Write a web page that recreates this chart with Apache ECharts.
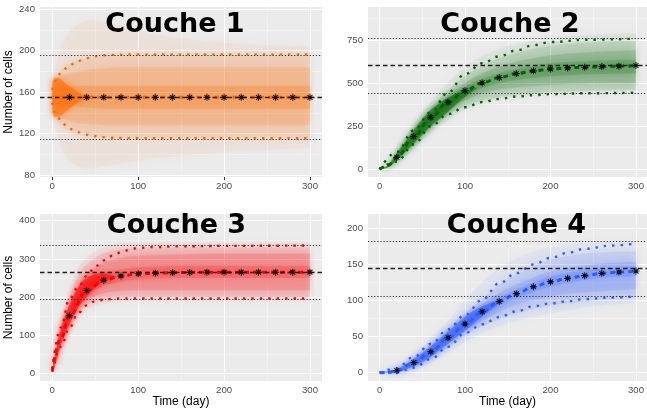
<!DOCTYPE html>
<html>
<head>
<meta charset="utf-8">
<script src="https://cdn.jsdelivr.net/npm/echarts@6/dist/echarts.min.js"></script>
<style>
  html, body { margin: 0; padding: 0; background: #fff; }
  #main { width: 647px; height: 409px; }
</style>
</head>
<body>
<div id="main"></div>
<script>
// ---- data ----
const titles = ['Couche 1', 'Couche 2', 'Couche 3', 'Couche 4']
const xTicks = [0, 100, 200, 300]
const xMinor = [50, 150, 250]
const yTicks1 = [80, 120, 160, 200, 240]
const yTicks2 = [0, 250, 500, 750]
const yTicks3 = [0, 100, 200, 300, 400]
const yTicks4 = [0, 50, 100, 150, 200]
const yMinor1 = [100, 140, 180, 220]
const yMinor2 = [125, 375, 625, 875]
const yMinor3 = [50, 150, 250, 350]
const yMinor4 = [25, 75, 125, 175]

// mean curve (stars from day 20 on)
const tMean = [0, 10, 20, 40, 60, 80, 100, 120, 140, 160, 180, 200, 220, 240, 260, 280, 300]
const mean1 = [155, 155, 155, 155, 155, 155, 155, 155, 155, 155, 155, 155, 155, 155, 155, 155, 155]
const mean2 = [0, 22, 70, 190, 302, 389, 456, 501, 532, 555, 571, 582, 588, 592, 596, 598, 602]
const mean3 = [6, 92, 151, 217, 244, 255, 261, 262.5, 264, 264.5, 265, 265, 265, 265, 265, 265, 265]
const mean4 = [0, 0.5, 2.8, 13.9, 29, 48.5, 67.5, 84.5, 98.8, 109.5, 119, 126, 130.7, 134.4, 137.6, 139.4, 140.8]

// horizontal reference lines: [dashed, dotted high, dotted low]
const ref1 = [155, 196, 114.5]
const ref2 = [603, 758, 443]
const ref3 = [265, 335, 195]
const ref4 = [144.5, 181.5, 106]

// coloured dotted quantile curves
const tq1 = [0, 3, 6, 11, 19, 28, 37, 47, 57, 66, 100, 200, 300]
const q1Hi = [162, 170, 175, 180, 185, 189, 192, 194, 195.5, 196, 196.5, 196.5, 196.5]
const q1Lo = [150, 141, 136, 131, 125, 122, 119.3, 117.7, 116.7, 116, 115.5, 115.5, 115.5]
const tq2 = [0, 20, 40, 60, 80, 100, 120, 140, 160, 180, 200, 240, 300]
const q2Hi = [0, 100, 225, 330, 445, 553, 615, 655, 690, 720, 738, 751, 758]
const q2Lo = [0, 45, 145, 250, 320, 360, 390, 408, 422, 430, 436, 441, 444]
const tq3 = [0, 10, 20, 30, 40, 50, 60, 70, 80, 90, 100, 120, 150, 200, 300]
const q3Hi = [10, 120, 195, 225, 255, 280, 296, 308, 317, 324, 329, 331, 333, 334, 335]
const q3Lo = [4, 70, 120, 158, 178, 189, 193, 195, 196, 196, 196, 196, 196, 196, 196]
const tq4 = [0, 20, 40, 60, 80, 100, 120, 140, 160, 180, 200, 220, 240, 270, 300]
const q4Hi = [0, 6, 22, 40, 60, 80, 101, 124, 138, 150, 159, 166, 171.5, 176, 179]
const q4Lo = [0, 0.5, 7, 19, 36, 55, 67, 77, 85, 92, 96, 99, 102, 104, 105.5]

// bundle of trajectories, as nested [low, high] envelopes
const t1 = [0, 4, 8, 12, 20, 30, 45, 60, 80, 120, 200, 300]
const p1Outer = [[137, 173], [124, 186], [112, 198], [103, 207], [94, 218], [88, 226], [86, 230], [88, 228], [91, 224], [96, 216], [102, 208], [106, 204]]
const p1Mid = [[138, 172], [134, 176], [130, 180], [127, 183], [122, 188], [119, 191], [117, 194], [116, 195], [116, 196], [116, 196], [116, 196], [116, 196]]
const p1Inner = [[140, 170], [138, 172], [136, 174], [134, 176], [132, 178], [130, 180], [129, 182], [128, 183], [128, 184], [128, 184], [128, 184], [128, 184]]
const p1Core = [[146, 166], [146, 166], [146, 166], [146, 166], [146, 166], [146, 166], [145, 166], [144, 166], [144, 166], [144, 166], [144, 166], [144, 166]]
const t1e = [0, 3, 7, 12, 18, 25, 32, 42]
const p1Early = [[140, 170], [136, 174], [136, 174], [139, 171], [143, 167], [147, 163], [151, 159], [155, 155]]

const t2 = [0, 10, 20, 30, 40, 60, 80, 100, 120, 150, 200, 250, 300]
const p2Outer = [[0, 0], [8, 30], [35, 110], [75, 190], [118, 265], [210, 390], [285, 505], [345, 595], [385, 655], [420, 715], [445, 762], [452, 782], [455, 790]]
const p2Mid = [[0, 0], [10, 26], [45, 98], [90, 172], [135, 242], [235, 360], [315, 460], [365, 540], [398, 600], [428, 662], [448, 716], [456, 736], [460, 744]]
const p2Inner = [[0, 0], [12, 24], [52, 88], [100, 155], [150, 222], [255, 335], [340, 425], [400, 500], [440, 555], [470, 612], [490, 660], [500, 680], [502, 690]]
const p2Core = [[0, 0], [14, 22], [60, 80], [115, 140], [172, 205], [280, 318], [365, 410], [428, 478], [470, 525], [510, 570], [540, 615], [552, 630], [556, 636]]
const t2e = [0, 10, 20, 30, 40, 50, 60, 75, 95, 115]
const p2Early = [[0, 0], [14, 25], [52, 92], [100, 160], [150, 228], [200, 290], [250, 345], [310, 400], [400, 450], [475, 475]]

const t3 = [0, 5, 10, 20, 30, 40, 60, 80, 100, 150, 200, 300]
const p3Outer = [[2, 14], [25, 80], [58, 140], [105, 215], [145, 275], [168, 305], [185, 330], [190, 340], [192, 342], [192, 342], [192, 342], [192, 342]]
const p3Mid = [[3, 12], [30, 72], [68, 128], [118, 200], [158, 255], [180, 285], [194, 315], [198, 325], [200, 328], [200, 330], [200, 330], [200, 330]]
const p3Inner = [[4, 10], [36, 65], [76, 115], [130, 180], [170, 230], [192, 260], [210, 290], [216, 302], [218, 308], [218, 312], [218, 314], [218, 314]]
const p3Core = [[5, 8], [42, 58], [84, 104], [140, 165], [180, 205], [205, 232], [230, 262], [240, 272], [246, 278], [250, 282], [250, 282], [250, 282]]
const t3e = [0, 5, 10, 20, 30, 40, 55, 75]
const p3Early = [[3, 12], [34, 68], [74, 118], [128, 180], [172, 225], [200, 250], [235, 262], [254, 254]]

const t4 = [0, 20, 40, 60, 80, 100, 120, 140, 160, 200, 250, 300]
const p4Outer = [[0, 0], [0, 8], [4, 26], [14, 48], [28, 72], [42, 100], [55, 125], [64, 145], [72, 158], [82, 174], [92, 180], [97, 182]]
const p4Mid = [[0, 0], [1, 6], [7, 21], [19, 40], [35, 61], [52, 82], [64, 102], [74, 122], [82, 136], [93, 156], [100, 166], [104, 168]]
const p4Inner = [[0, 0], [2, 4], [10, 17], [23, 35], [40, 55], [58, 76], [72, 95], [84, 110], [94, 122], [106, 140], [112, 150], [116, 154]]
const p4Core = [[0, 0], [2, 4], [12, 15], [26, 32], [45, 52], [63, 72], [79, 90], [93, 104], [103, 115], [119, 133], [130, 143], [134, 147]]
const t4e = [0, 20, 40, 60, 80, 100, 120, 145]
const p4Early = [[0, 0], [1, 5], [9, 19], [22, 37], [40, 57], [58, 78], [78, 92], [101, 101]]

// ---- layout / styles ----
const colors = ['#ff6a00', '#006400', '#ff0000', '#2f5cff']
const grids = [
  { left: 40, top: 7, width: 282, height: 170 },
  { left: 368, top: 7, width: 279, height: 170 },
  { left: 40, top: 214, width: 282, height: 167 },
  { left: 368, top: 214, width: 279, height: 167 }
]
const xRange = [[-14.3, 314], [-13.6, 312.9], [-14.3, 314], [-13.6, 312.9]]
const yRange = [[78.1, 242.2], [-44.7, 941.4], [-20.2, 417.6], [-11.5, 219.8]]
const yTicks = [yTicks1, yTicks2, yTicks3, yTicks4]
const yMinor = [yMinor1, yMinor2, yMinor3, yMinor4]
const titlePos = [[175, 25], [510, 25], [176.5, 226], [516.5, 226]]

// smooth path through pixel points (catmull-rom, clamped so it doesn't overshoot)
function curve(p, start) {
  let d = start + p[0][0] + ' ' + p[0][1]
  for (let i = 0; i < p.length - 1; i++) {
    const p0 = p[i - 1] || p[i], p1 = p[i], p2 = p[i + 1], p3 = p[i + 2] || p[i + 1]
    const ylo = Math.min(p1[1], p2[1]), yhi = Math.max(p1[1], p2[1])
    const c1x = p1[0] + (p2[0] - p0[0]) / 6
    const c2x = p2[0] - (p3[0] - p1[0]) / 6
    const c1y = Math.min(yhi, Math.max(ylo, p1[1] + (p2[1] - p0[1]) / 6))
    const c2y = Math.min(yhi, Math.max(ylo, p2[1] - (p3[1] - p1[1]) / 6))
    d += ' C' + c1x + ' ' + c1y + ' ' + c2x + ' ' + c2y + ' ' + p2[0] + ' ' + p2[1]
  }
  return d
}

function band(k, T, pairs, alpha, blur) {
  return {
    type: 'custom', xAxisIndex: k, yAxisIndex: k, silent: true, z: 2,
    data: [[T[0], pairs[0][0]]],
    renderItem: function (params, api) {
      const lo = T.map((t, i) => api.coord([t, pairs[i][0]]))
      const hi = T.map((t, i) => api.coord([t, pairs[i][1]])).reverse()
      return {
        type: 'path',
        shape: { pathData: curve(lo, 'M') + ' ' + curve(hi, 'L') + ' Z' },
        style: { fill: colors[k], opacity: alpha, shadowBlur: blur, shadowColor: colors[k] }
      }
    }
  }
}

function curveSeries(k, T, V, color, width, dash, z) {
  return {
    type: 'line', xAxisIndex: k, yAxisIndex: k, silent: true, z: z,
    data: T.map((t, i) => [t, V[i]]),
    smooth: 0.4, smoothMonotone: 'x', symbol: 'none',
    lineStyle: { color: color, width: width, type: dash, cap: 'butt' }
  }
}

function gridLines(k) {
  const major = { color: '#ffffff', width: 1.1, type: 'solid' }
  const minor = { color: '#f7f7f7', width: 0.55, type: 'solid' }
  const data = []
  xTicks.forEach(v => data.push({ xAxis: v, lineStyle: major }))
  xMinor.forEach(v => data.push({ xAxis: v, lineStyle: minor }))
  yTicks[k].forEach(v => data.push({ yAxis: v, lineStyle: major }))
  yMinor[k].forEach(v => data.push({ yAxis: v, lineStyle: minor }))
  return {
    type: 'line', xAxisIndex: k, yAxisIndex: k, data: [], z: 1, silent: true,
    markLine: { silent: true, symbol: 'none', label: { show: false }, z: 1, animation: false, data: data }
  }
}

function refLines(k, ref) {
  return {
    type: 'line', xAxisIndex: k, yAxisIndex: k, data: [], z: 5, silent: true,
    markLine: {
      silent: true, symbol: 'none', label: { show: false }, z: 5, animation: false,
      data: [
        { yAxis: ref[0], lineStyle: { color: '#222', width: 1.3, type: [4.5, 3] } },
        { yAxis: ref[1], lineStyle: { color: '#333', width: 1, type: [1.2, 1.9] } },
        { yAxis: ref[2], lineStyle: { color: '#333', width: 1, type: [1.2, 1.9] } }
      ]
    }
  }
}

function stars(k, M) {
  const pts = tMean.map((t, i) => [t, M[i]]).filter(p => p[0] >= 20)
  return [
    {
      type: 'scatter', xAxisIndex: k, yAxisIndex: k, silent: true, z: 6, data: pts,
      symbol: 'path://M0 -5L0 5M-5 0L5 0M-3.5 -3.5L3.5 3.5M-3.5 3.5L3.5 -3.5',
      symbolSize: 7,
      itemStyle: { color: 'transparent', borderColor: '#000', borderWidth: 1.1 }
    },
    {
      type: 'scatter', xAxisIndex: k, yAxisIndex: k, silent: true, z: 6, data: pts,
      symbol: 'circle', symbolSize: 3.2, itemStyle: { color: '#111' }
    }
  ]
}

const panels = [
  { T: t1, layers: [p1Outer, p1Mid, p1Inner, p1Core], Te: t1e, early: p1Early, mean: mean1, ref: ref1, tq: tq1, qHi: q1Hi, qLo: q1Lo },
  { T: t2, layers: [p2Outer, p2Mid, p2Inner, p2Core], Te: t2e, early: p2Early, mean: mean2, ref: ref2, tq: tq2, qHi: q2Hi, qLo: q2Lo },
  { T: t3, layers: [p3Outer, p3Mid, p3Inner, p3Core], Te: t3e, early: p3Early, mean: mean3, ref: ref3, tq: tq3, qHi: q3Hi, qLo: q3Lo },
  { T: t4, layers: [p4Outer, p4Mid, p4Inner, p4Core], Te: t4e, early: p4Early, mean: mean4, ref: ref4, tq: tq4, qHi: q4Hi, qLo: q4Lo }
]
const layerAlpha = [0.04, 0.085, 0.11, 0.14]
const layerBlur = [10, 7, 5, 4]

let series = []
panels.forEach((p, k) => {
  series.push(gridLines(k))
  p.layers.forEach((L, j) => series.push(band(k, p.T, L, layerAlpha[j], layerBlur[j])))
  series.push(band(k, p.Te, p.early, 0.5, 6))
  series.push(curveSeries(k, p.tq, p.qHi, colors[k], 2.4, [2.4, 6], 3))
  series.push(curveSeries(k, p.tq, p.qLo, colors[k], 2.4, [2.4, 6], 3))
  series.push(curveSeries(k, tMean, p.mean, colors[k], 3, [5, 4], 4))
  series.push(refLines(k, p.ref))
  series = series.concat(stars(k, p.mean))
})

const labelFont = { color: '#4d4d4d', fontSize: 9.6, fontFamily: 'Liberation Sans' }
const nameFont = { color: '#000', fontSize: 12, fontFamily: 'Liberation Sans' }

const option = {
  animation: false,
  grid: grids.map(g => Object.assign({
    show: true, backgroundColor: '#ebebeb', borderWidth: 0, containLabel: false, outerBoundsMode: 'none'
  }, g)),
  xAxis: grids.map((g, k) => ({
    type: 'value', gridIndex: k, min: xRange[k][0], max: xRange[k][1],
    axisLine: { show: false }, splitLine: { show: false },
    axisTick: { show: true, length: 3, customValues: xTicks, lineStyle: { color: '#333' } },
    axisLabel: Object.assign({ customValues: xTicks, margin: 4, hideOverlap: false }, labelFont),
    name: k >= 2 ? 'Time (day)' : '', nameLocation: 'middle', nameGap: 15, nameTextStyle: nameFont
  })),
  yAxis: grids.map((g, k) => ({
    type: 'value', gridIndex: k, min: yRange[k][0], max: yRange[k][1],
    axisLine: { show: false }, splitLine: { show: false },
    axisTick: { show: true, length: 3, customValues: yTicks[k], lineStyle: { color: '#333' } },
    axisLabel: Object.assign({ customValues: yTicks[k], margin: 5, hideOverlap: false }, labelFont),
    name: k % 2 === 0 ? 'Number of cells' : '', nameLocation: 'middle', nameGap: 23, nameTextStyle: nameFont
  })),
  graphic: titles.map((s, k) => ({
    type: 'text', x: titlePos[k][0], y: titlePos[k][1], z: 100,
    style: {
      text: s, font: 'bold 27px "DejaVu Sans"', fill: '#000',
      textAlign: 'center', align: 'center', textVerticalAlign: 'middle', verticalAlign: 'middle'
    }
  })),
  series: series
}

const chart = echarts.init(document.getElementById('main'))
chart.setOption(option)
</script>
</body>
</html>
